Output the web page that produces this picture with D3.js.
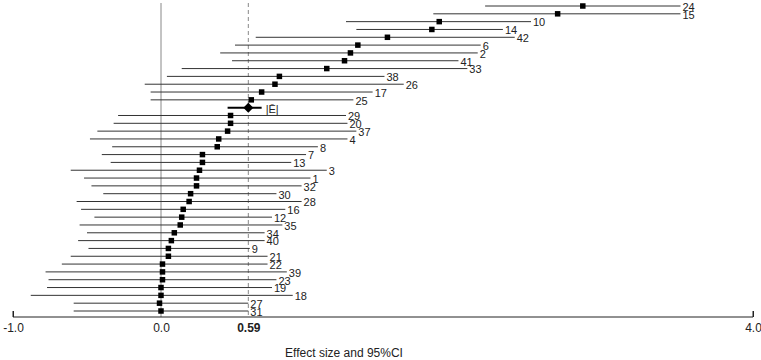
<!DOCTYPE html>
<html>
<head>
<meta charset="utf-8">
<script src="https://cdn.jsdelivr.net/npm/d3@7"></script>
<style>
  body { margin: 0; background: #fff; }
  text { font-family: "Liberation Sans", Arial, sans-serif; fill: #222; }
</style>
</head>
<body>
<svg id="chart" width="761" height="360"></svg>
<script>
// study labels, top to bottom ('E' = pooled estimate)
const studies = ['24','15','10','14','42','6','2','41','33','38','26','17','25','E',
  '29','20','37','4','8','7','13','3','1','32','30','28','16','12','35','34','40',
  '9','21','22','39','23','19','18','27','31'];
const est = [2.85,2.68,1.88,1.83,1.53,1.33,1.28,1.24,1.12,0.80,0.77,0.68,0.61,0.59,
  0.47,0.47,0.45,0.39,0.38,0.28,0.28,0.26,0.24,0.24,0.20,0.19,0.15,0.14,0.13,0.09,0.07,
  0.05,0.05,0.01,0.01,0.01,0.00,0.00,-0.01,0.00];
const lower = [2.19,1.84,1.25,1.32,0.64,0.50,0.40,0.48,0.14,0.04,-0.11,-0.07,-0.07,0.45,
  -0.29,-0.32,-0.43,-0.48,-0.33,-0.40,-0.34,-0.61,-0.52,-0.47,-0.39,-0.57,-0.54,-0.45,-0.55,-0.50,-0.56,
  -0.49,-0.61,-0.67,-0.78,-0.76,-0.77,-0.88,-0.59,-0.59];
const upper = [3.51,3.51,2.50,2.31,2.39,2.16,2.14,2.01,2.07,1.51,1.64,1.43,1.30,0.68,
  1.25,1.26,1.32,1.26,1.06,0.98,0.88,1.12,1.01,0.95,0.78,0.95,0.84,0.75,0.82,0.70,0.70,
  0.60,0.72,0.72,0.85,0.78,0.75,0.89,0.59,0.59];
const tickValues = [-1, 0, 0.59, 4];
const tickLabels = ['-1.0', '0.0', '0.59', '4.0'];
const pooled = 0.59;

const rows = studies.map((s, i) => ({ s, est: est[i], lo: lower[i], hi: upper[i] }));

const svg = d3.select('#chart');
const x = d3.scaleLinear().domain([-1, 4]).range([13, 753]);
const y = d3.scalePoint().domain(studies).range([6, 311]);
const axisY = 317;

// reference lines at 0 and pooled estimate
svg.append('line')
  .attr('x1', x(0)).attr('x2', x(0)).attr('y1', 3).attr('y2', axisY)
  .attr('stroke', '#888').attr('stroke-width', 1);
svg.append('line')
  .attr('x1', x(pooled)).attr('x2', x(pooled)).attr('y1', 3).attr('y2', axisY)
  .attr('stroke', '#888').attr('stroke-width', 1).attr('stroke-dasharray', '4,3');

// axis
const axis = svg.append('g').attr('transform', `translate(0,${axisY})`)
  .call(d3.axisBottom(x).tickValues(tickValues).tickSize(-6)
    .tickFormat((d, i) => tickLabels[i]));
axis.select('.domain').attr('d', `M${x(-1)},-6V0H${x(4)}V-6`).attr('stroke', '#222');
axis.selectAll('.tick line').attr('stroke', d => (d === 0 || d === pooled) ? 'none' : '#222');
axis.selectAll('.tick text')
  .attr('y', 6).attr('dy', '0.71em')
  .style('font-size', '12px')
  .style('font-family', '"Liberation Sans", Arial, sans-serif')
  .style('font-weight', d => d === pooled ? 'bold' : 'normal')
  .attr('fill', '#222');

svg.append('text')
  .attr('x', 344).attr('y', 357)
  .attr('text-anchor', 'middle')
  .style('font-size', '12px')
  .text('Effect size and 95%CI');

// study rows
const studyRows = rows.filter(d => d.s !== 'E');
const g = svg.append('g');
g.selectAll('line.ci').data(studyRows).join('line')
  .attr('class', 'ci')
  .attr('x1', d => x(d.lo)).attr('x2', d => x(d.hi))
  .attr('y1', d => y(d.s)).attr('y2', d => y(d.s))
  .attr('stroke', '#333').attr('stroke-width', 1);
g.selectAll('rect.pt').data(studyRows).join('rect')
  .attr('class', 'pt')
  .attr('x', d => x(d.est) - 2.75).attr('y', d => y(d.s) - 2.75)
  .attr('width', 5.5).attr('height', 5.5)
  .attr('fill', '#000');
g.selectAll('text.lab').data(studyRows).join('text')
  .attr('class', 'lab')
  .attr('x', d => x(d.hi) + 2).attr('y', d => y(d.s) + 1)
  .attr('dy', '0.35em')
  .style('font-size', '11px')
  .text(d => d.s);

// pooled estimate
const p = rows.find(d => d.s === 'E');
svg.append('line')
  .attr('x1', x(p.lo)).attr('x2', x(p.hi))
  .attr('y1', y('E')).attr('y2', y('E'))
  .attr('stroke', '#000').attr('stroke-width', 2);
const cx = x(p.est), cy = y('E');
svg.append('path')
  .attr('d', `M${cx - 5},${cy}L${cx},${cy - 5}L${cx + 5},${cy}L${cx},${cy + 5}Z`)
  .attr('fill', '#000');
svg.append('text')
  .attr('x', x(p.hi) + 4).attr('y', cy + 1)
  .attr('dy', '0.35em')
  .style('font-size', '11px')
  .text('|Ē|');
</script>
</body>
</html>
